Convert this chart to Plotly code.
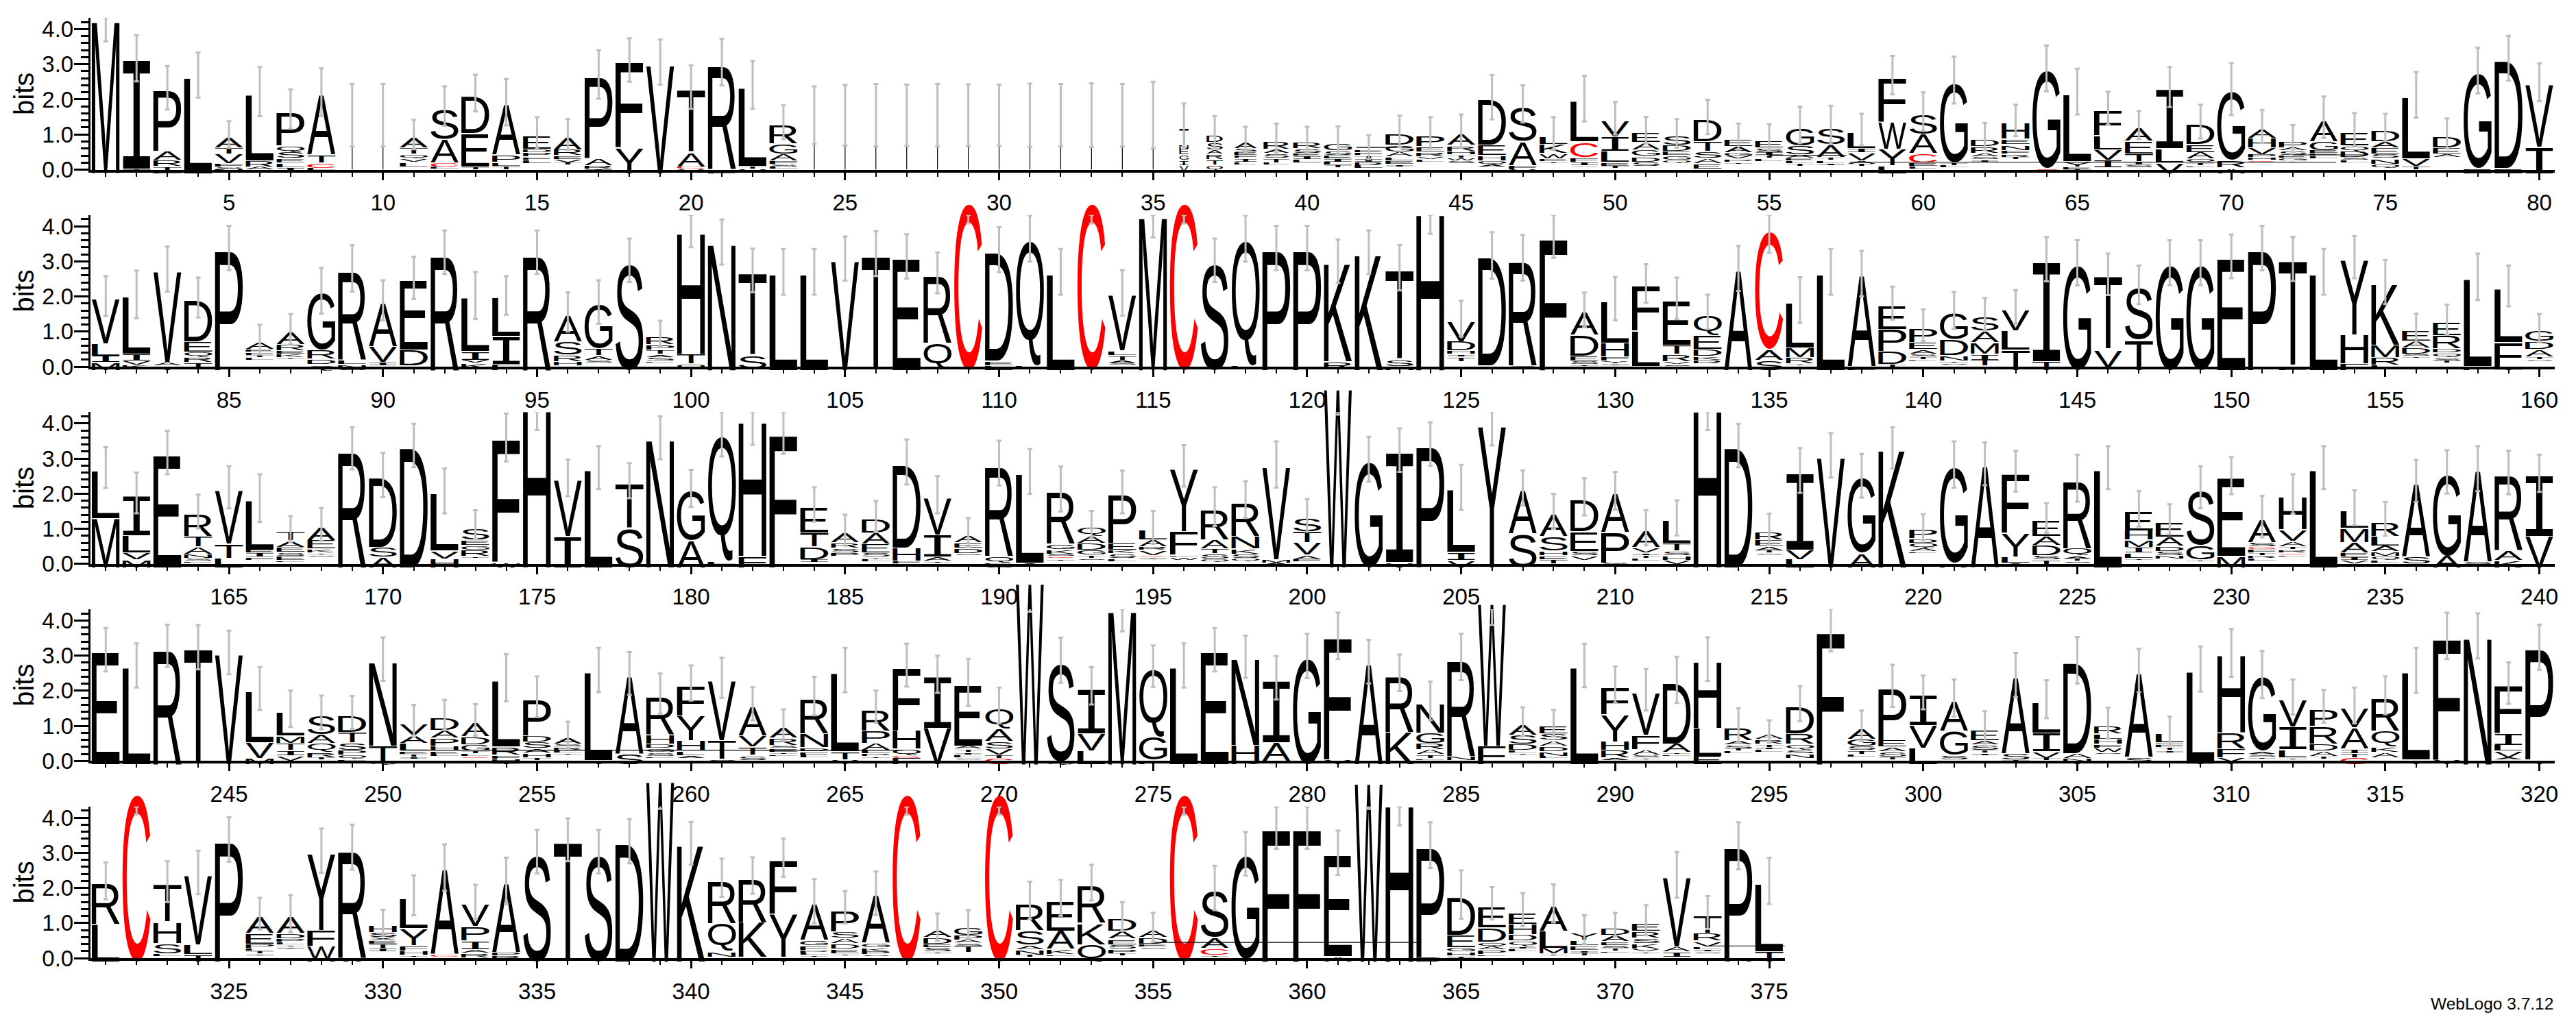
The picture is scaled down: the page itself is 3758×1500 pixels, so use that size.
import plotly.graph_objects as go

ROW_FIRST = [1, 81, 161, 241, 321]
ROW_LAST = [80, 160, 240, 320, 375]

# stack top (bits), one value per position
TOPS_1 = [4.28,3.17,2.33,2.69,1.0,2.22,1.72,2.2,1.55,1.55,
 1.0,1.81,2.18,1.92,1.04,1.0,2.71,3.12,3.06,2.35,
 3.06,2.41,1.35,1.55,1.55,1.55,1.55,1.55,1.55,1.55,
 1.55,1.55,1.55,1.55,1.55,1.26,1.06,.85,.9,.85,
 .82,.64,1.09,1.04,1.1,2.06,1.87,1.03,2.02,1.46,
 1.12,1.03,1.5,.94,.91,1.27,1.27,1.14,2.69,1.65,
 2.55,.94,1.4,2.88,2.22,1.75,1.27,2.35,1.37,2.29,
 1.23,.88,1.49,1.14,1.2,2.13,1.03,2.82,3.17,2.49]
TOPS_2 = [2.01,2.06,2.78,1.97,3.38,.77,1.07,2.16,2.8,1.89,
 2.53,3.26,2.03,2.03,3.26,1.56,1.84,3.03,.94,3.86,
 3.55,2.74,2.7,2.7,3.08,3.22,3.14,2.67,4.72,3.33,
 3.65,2.7,4.72,2.1,4.31,4.72,3.03,3.65,3.38,3.38,
 3.0,3.26,2.82,4.4,1.37,3.17,3.1,3.7,1.62,1.94,
 2.37,1.95,1.56,2.8,3.91,1.9,2.7,2.65,1.81,1.18,
 1.6,1.5,1.7,3.06,2.96,2.63,2.33,2.96,2.96,3.14,
 3.38,3.07,2.7,3.12,2.41,1.1,1.34,2.56,2.3,1.1]
TOPS_3 = [2.74,2.02,3.17,1.49,2.18,1.87,.99,1.12,3.29,2.53,
 3.37,2.08,1.12,3.6,4.43,2.45,2.74,2.37,3.59,2.15,
 3.69,4.1,3.73,1.69,.96,1.36,2.9,1.97,.9,2.87,
 2.63,2.13,1.12,2.05,1.04,2.79,1.63,1.83,2.83,1.38,
 5.05,2.98,3.24,3.41,2.18,3.99,2.16,1.49,1.91,2.08,
 1.03,1.31,4.42,3.37,.99,2.66,3.09,2.51,3.3,1.04,
 2.83,2.85,2.64,1.31,2.44,2.74,1.57,1.27,2.18,2.51,
 1.35,1.99,2.74,1.6,1.28,2.36,2.62,2.71,2.6,2.58]
TOPS_4 = [3.17,2.72,3.28,3.24,3.09,2.06,1.49,1.38,1.38,2.9,
 1.15,1.31,1.17,2.37,1.83,.74,2.59,2.49,1.92,2.22,
 2.37,1.63,1.02,1.85,2.59,1.55,2.73,2.47,2.24,1.58,
 5.13,2.87,2.14,4.32,2.7,2.72,3.17,2.97,2.37,2.99,
 3.56,2.83,2.51,1.71,2.96,4.55,1.12,1.08,2.72,2.17,
 2.03,2.31,2.9,1.02,.84,1.63,3.72,1.0,2.14,1.95,
 1.79,.96,2.45,1.76,2.87,1.08,2.58,.85,2.62,3.08,
 2.46,1.82,1.56,1.58,1.87,2.58,3.56,3.56,2.22,3.24]
TOPS_5 = [2.2,4.73,2.18,2.44,3.38,1.27,1.27,3.06,3.16,1.01,
 1.79,2.58,1.6,2.2,3.03,3.37,3.03,3.33,5.1,3.27,
 2.29,2.35,2.86,1.62,1.45,1.85,4.73,.88,.96,4.73,
 1.65,1.72,2.15,1.19,.88,4.73,2.0,2.97,3.72,3.72,
 3.0,5.05,4.4,3.22,1.81,1.56,1.38,1.56,.81,.95,
 1.08,2.37,1.3,3.2,2.2]

# letters of each stack, top to bottom; a letter without a number reaches the baseline
STACKS_1 = ["M","I3.05 T.1","P1.7 A.22 R.15 T.08 L.06","L","A.26 T.15 V.24 F.07 S.05 N.06","L1.85 R.15 A.06 I.04","P.93 Q.16 S.14 E.1 L.1 I.08","A1.67 T.2 C.12 L.04","","",
 "A.26 T.16 Q.1 V.07 L.1","S.83 A.64 C.09 L.04","D1.03 E.93 T.05","A1.39 P.18 L.08 T.08 I.05","E.35 D.07 P.09 F.05 L.08","A.32 R.14 E.08 V.06 T.04","P2.28 A.17 R.08 I.06","F2.39 Y","V","T1.75 A.38 C.04 V.04",
 "R2.95 L","L2.2 T.06 V.06","R.51 G.26 A.16 F.06 S.05 L.04","","","","","","","",
 "","","","","","T.43 N.1 E.14 G.13 I.12 V.15","D.17 S.18 A.1 R.12 T.13 Q.13","A.14 S.07 E.06 F.05 I.08 L.05","R.2 A.1 S.1 T.1 L.04","R.14 S.11 E.05 I.06 L.07",
 "G.17 S.11 E.06 I.06 L.06 T.04","E.05 F.05 T.06 I.06 R.07 L.06","D.29 G.16 A.11 L.07 E.08 I.05","P.27 E.13 R.1 V.05 L.04","A.3 R.13 H.08 T.06 W.05 S.04","D1.26 E.26 H.11 Q.09 A.04","S.96 A.65 F.09 V.04","L.2 K.22 W.13 E.04 T.03","L1.11 C.42 F.1 I.08 V.03","V.42 I.37 L.29 E.08 T.04",
 "E.24 A.18 G.15 D.13 S.1","S.22 D.14 E.1 G.1 Q.06","D.6 T.24 S.16 A.13 E.13","E.16 A.15 G.07 V.06 P.05 T.03","E.17 S.11 I.06 T.05 L.05","G.49 S.22 A.06 E.05 L.05 T.04","S.45 A.33 T.06 L.05 I.04","L.42 I.1 V.2 A.06 T.04","F1.22 W.74 Y.45 L","S.54 A.51 C.24 E.07 L.04",
 "G2.24 T.05 L.04","D.17 R.16 A.08 S.05 I.04","H.42 E.13 N.13 F.08 R.06 T.04","G2.74 C","L1.88 Y.12 E.05 T.04","F.66 L.38 V.26 I.2","A.35 E.33 T.19 I.06 S.05","I1.64 L.38 V","D.54 E.2 A.16 Q.08 T.04 L.03","G1.92 R.18 A",
 "A.22 H.24 V.17 P.06 H.04 C.03","P.14 A.06 S.1 E.05 G.04 T.03","A.58 G.22 E.06 F.05 L.04","E.35 Q.13 D.14 S.05 L.04","D.29 A.14 E.15 S.1 N.13 Q.1","L1.71 V.19 T.07","D.3 E.14 A.07","G2.67 E","D3.03 E","V1.74 I"]
STACKS_2 = ["V1.24 L.32 I.16 M","L1.59 I.16 V.1 K.04","V2.54 A.08 T","D1.15 E.26 Q.11 R.12 T.13","P","A.17 E.05 F.05 T.04 L.04","A.32 R.15 E.06 K.08 T.03","G1.58 R.22 D.13 Q","R2.5 L.1 N.08 S","A1.2 V.42 I.08 S.05",
 "E1.95 D.42 L.03","R","L1.49 I.21 V.06 K.12","L1.06 I.77 F","R","A.73 S.35 R.16 H.1 T.03","G1.22 T.17 A.1 S.04","S","R.19 P.13 T.1 A.05 S.08 L.03","H3.4 T.24 Q.1",
 "N","T2.31 S.34","L","L","V","T","E","R1.89 Q.7","C","D3.06 E.1 L",
 "Q3.51 L.06","L","C","V1.54 L.1 T.1 A.05 S.04","M","C","S","Q3.51 L.06","P","P",
 "K2.75 R.18","K","T2.52 S.15 H","H","V.54 D.24 H.06 I.05 T.1","D3.04 V.08","R2.97 Q.08","F","A.61 D.56 E.11 S.08 T.03","L1.15 H.36 F.1 Y.04 I.03",
 "F1.24 L.98 Y.03","E1.23 T.22 R.18 V.05 S.03","Q.56 E.37 D.16 K.08 R.08","A","C3.32 A.26 S","L1.25 M.24 R.16 T.03 I.03","L","A2.54 L","E.64 P.59 D.35 T.04 S.03","P.37 E.18 A.1 S.05 T.04 L.03",
 "G.71 D.43 N.13 T.03 S.03","S.38 A.29 M.29 I.15 T.14","V.56 L.53 T","I2.8 T","G","T2.04 V.47","S1.46 T","G","G","E",
 "P","T2.96 L","L","Y2.1 H.8 F","K1.69 M.31 R.19 L.04","E.26 A.16 D.14 S.04 T.03","E.34 R.34 D.1 Q.1 S.06 T.04","L2.44 F","L1.5 F.7 T.03","G.27 D.2 A.17 T.05 S.03"]
STACKS_3 = ["L1.33 M","I1.1 L.47 V.16 M","E","R.6 T.27 A.17 N.09 S.04 L.03","V1.51 T.37 L","L1.36 E.06 I.09 F.05","T.22 A.15 E.12 S.08 E.09 L.03","A.34 E.21 K.08 T.03 S.03","R","D1.94 S.26 A",
 "D","L1.6 V.19 H","S.32 E.13 G.11 R.15 T.03","F3.44 W","H","V1.56 I","L","T1.25 S","N","G1.38 A",
 "Q3.51 L.05","H3.77 F","F","E.69 T.38 D.32 I.06","A.24 R.13 S.1 P.07","D.37 A.29 E.21 S.1 T.03 L.04","D2.33 H.35 F.05 N.04","V1.03 I.6 A.09 T.03","A.18 E.13 D.12 S.03","R2.54 Q.17 E.04 S.04",
 "L2.49 A.05","R1.46 G.12 K.1 S.04 C.03 T.03","Q.21 A.18 D.16 G.12 T.06 S.03","P1.35 E.16 K.08 S.11 L.05","L.24 A.16 R.08 V.12 C.03 I.03","Y1.76 F.64 L.03 W.05","R.83 A.22 T.12 S.12 Q.05","R.93 N.32 K.13 S.1 Q.05","V2.6 M.06 A.04","S.35 T.29 V.31 A.1 F.04",
 "W","G","I3.08 V","P","L1.74 I.2 V","Y","A1.19 S","A.59 S.4 H.1 E.07 T.1","D.88 E.53 S.09 V.1","A1.06 P.85 S.04",
 "A.45 V.12 I.05 T.05 L.04","L.61 T.19 S.1 H.1 V.1","H","D","R.19 E.15 A.1 T.04 S.03","I2.15 V.24 L","V","G2.1 A","K","P.21 D.1 Q.11 A.07 L.03",
 "G2.69 R","A","F1.65 Y.65 L.15 A.04","E.42 A.22 D.26 S.1 T.1","R1.89 Q.18 A.05 T.04 S.03","L","E.51 H.24 M.17 I.13 L.13 T.03","E.4 A.21 D.13 S.1 N.06","S1.54 G.38 T.03","E2.19 M",
 "A.63 S.09 C.05 F.06 T.05 R.05 L.04","H.9 V.3 A.12 T.06 R.06 C.03 L.03","L","L.48 M.37 A.26 E.1 I.06 V.06","R.38 L.24 A.14 M.1 Q.08 L.05","A2.03 S.19 T.03","G2.28 A","A2.54 S.04","R2.12 A.24 K","I1.69 V"]
STACKS_4 = ["E","L","R","T","V","L1.43 V.42 M","L.66 M.18 T.18 I.11 V.13","S.53 A.21 Q.21 R.13 T.04","D.45 T.28 S.17 P.11 Q.08 L.03","N2.36 T.42 Q",
 "V.3 A.2 L.2 E.05 T.05 I.04","D.33 A.19 P.19 H.12 E.05 L.04","A.37 D.19 G.16 T.04 L.05 C.03","L1.86 R.2 F.08 H.07 T.03","P1.0 D.15 S.15 A.1 H.1 T.05","A.14 S.06 R.06 L.04 T.03","L2.47 T","A2.18 S","R1.06 H.23 D.1 G.08 S.08 L.03","F.83 Y.67 H.27 L.1 A.05",
 "V1.67 T.51 S.03","A.8 V.29 T.21 S.11","A.26 R.17 S.06 E.08 T.03 L.03","R.96 N.37 D.08 F.08 L.04","L2.21 T.2 Y","R.58 P.33 A.16 L.06 P.05 T.03","F1.74 H.5 Q.16 C.05 F","I1.42 V","E1.7 A.06 T.06 I.05 L.05 S.03","Q.56 A.31 S.19 V.14 T.08 C",
 "W","S2.78 Q","I1.25 V.47 L","M","Q1.9 G.64 F","L","E","N2.42 H.42 K","I1.73 A.5 K.04","G",
 "F3.42 Y","A","R1.58 K","N.8 G.27 R.14 A.11 T.08 L.03","R2.71 N.09 T.05","W4.02 F","A.27 S.23 D.14 L.05 T.03","E.19 S.16 A.13 D.13 N.1 L.04","L","F.74 Y.74 H.21 R.19 A.04",
 "V1.18 F.38 A.13 S.05 T.03","D1.71 A.21 T.03 L.03","H1.85 L.77 E","R.32 A.1 S.08 T.04 L.04","A.11 R.11 T.06 I.04 L.04","D.74 R.27 Q.13 S.08 N.1","F","A.27 G.17 S.09 T.08 L.04","P1.44 E.16 A.1 S.13 T.04","I.83 V.62 L",
 "A.83 G.66 S.1","E.26 A.1 S.13 T.04 I.04","A2.13 S.15 T.04","L.85 I.51 V.15 T.04 A.03","D2.54 A.11 N.08 T.04","R.19 L.13 H.11 F.08 W.09 S.03","A2.35 S.13","L.21 E.03 F.05 T.05 I.04","L2.55 T.03","H2.17 R.42 F.22 Y",
 "G2.08 A.05 S.04 T.03","V.74 I.61 L.2 T.03","P.45 R.49 D.17 A.12 T.04","V.51 A.58 I.1 T.1 C","R.9 Q.42 K.13 A.12","L2.44 T","F3.41 Y","N","F1.31 I.32 L.14 V.15 A.04","P3.1 T"]
STACKS_5 = ["R1.13 L","C","T1.04 H.58 S.27 L.05 A.03","V1.95 L.25 T","P","A.44 E.28 P.1 L.05 T.05 I.03","A.45 D.12 P.08 L.04 T.03 I.03","Y2.15 F.42 W.35 H","R3.05 W","H.16 S.12 X.06 E.06 T.1 I.06",
 "L.83 Y.45 F.13 H.1 T.03","A2.37 C.05 L.07","V.59 P.38 I.21 A.08 R.1","A1.92 P.07 R.07","S","T","S","D","W","K",
 "R1.19 Q.77 N.13","R1.21 K.97 L.03","F1.49 Y1.2 T","A.99 G.13 F.1 P.05 L.04 T.03","P.58 S.15 A.13 D.13 E.1 T.03","A1.31 G.1 K.08 P.06 S.03","C","A.18 D.15 E.07 S.09 T.03","G.19 P.11 A.06 S.06 T.14","C",
 "R.74 S.4 A.1 N.12 T.04 L.03","E.83 A.49 K.13 L.03","R1.04 K.58 Q","D.31 A.19 E.13 S.1 P.1 T.04","A.18 D.15 E.05 S.03","C","S1.3 A.28 C.16 T.03","G2.9 T","F","F",
 "E2.85 A","W","H","P3.08 D","D1.04 E.32 G.1 H.08 T.08","E.58 D.38 Q.1 A.06 P.1 L.03","E.3 H.26 D.15 Q.13 I.05 L.05","A.67 L.46 M.14 T.03","Y.18 L.13 E.1 I.05 T.05","D.18 A.15 E.08 S.06 T.05 L.03",
 "E.2 R.16 S.13 K.12 V.05 T.03","V1.94 A.11 I.12","T.48 R.19 V.13 L.05 I.04 S.03","P3.09 A","L1.9 T"]

# upper end of the error bar (bits)
ERR_TOP_1 = [4.33,3.83,2.95,3.33,1.38,2.92,2.28,2.88,2.44,2.44,
 1.42,2.37,2.7,2.58,1.49,1.44,3.4,3.74,3.7,2.97,
 3.72,3.09,1.83,2.37,2.41,2.44,2.42,2.44,2.43,2.42,
 2.45,2.44,2.46,2.44,2.5,1.88,1.52,1.22,1.31,1.22,
 1.23,.98,1.54,1.49,1.57,2.69,2.4,1.49,2.67,1.92,
 1.5,1.44,1.99,1.31,1.29,1.79,1.82,1.59,3.24,2.2,
 3.22,1.33,1.85,3.53,2.87,2.22,1.67,2.92,1.85,3.03,
 1.7,1.27,2.08,1.61,1.59,2.78,1.46,3.47,3.81,3.03]
ERR_TOP_2 = [2.58,2.74,3.42,2.54,4.01,1.19,1.5,2.81,3.46,2.46,
 3.13,3.88,2.7,2.58,3.88,2.12,2.46,3.65,1.31,4.32,
 4.19,3.36,3.35,3.35,3.71,3.86,3.77,3.25,4.32,3.97,
 4.31,3.35,4.32,2.75,4.32,4.32,3.65,4.31,4.01,4.01,
 3.62,3.88,3.47,4.32,1.88,3.83,3.75,4.32,2.11,2.56,
 2.92,2.54,2.05,3.44,4.32,2.55,3.35,3.3,2.28,1.63,
 2.13,1.96,2.18,3.69,3.6,3.22,2.88,3.6,3.6,3.76,
 4.01,3.7,3.35,3.72,3.04,1.51,1.77,3.22,2.88,1.5]
ERR_TOP_3 = [3.32,2.6,3.79,1.97,2.78,2.55,1.36,1.59,3.89,3.16,
 3.99,2.72,1.53,4.28,4.32,2.97,3.35,2.87,4.2,2.68,
 4.32,4.32,4.32,2.18,1.4,1.79,3.54,2.5,1.31,3.51,
 3.27,2.77,1.51,2.66,1.51,3.38,2.18,2.35,3.49,1.84,
 4.32,3.62,3.86,4.03,2.82,4.33,2.66,1.99,2.44,2.62,
 1.53,1.81,4.33,3.99,1.43,3.3,3.72,3.13,3.89,1.41,
 3.49,3.46,3.22,1.73,3.11,3.35,2.08,1.7,2.78,3.04,
 1.94,2.55,3.35,2.1,1.76,2.96,3.24,3.35,3.22,3.11]
ERR_TOP_4 = [3.79,3.35,3.88,3.87,3.71,2.67,2.01,1.86,1.85,3.52,
 1.6,1.74,1.62,3.04,2.41,1.12,3.22,3.1,2.49,2.72,
 2.94,2.1,1.47,2.4,3.22,2.01,3.34,3.0,2.91,2.09,
 4.35,3.51,2.67,4.33,3.29,3.35,3.79,3.57,2.99,3.62,
 4.22,3.45,3.03,2.26,3.62,4.33,1.53,1.45,3.34,2.69,
 2.62,2.97,3.52,1.5,1.16,2.13,4.33,1.44,2.74,2.43,
 2.32,1.42,3.08,2.3,3.53,1.52,3.2,1.26,3.26,3.76,
 3.13,2.32,2.03,2.09,2.41,3.22,4.22,4.2,2.81,3.88]
ERR_TOP_5 = [2.73,4.31,2.76,3.06,4.01,1.72,1.8,3.69,3.8,1.38,
 2.36,3.24,2.09,2.86,3.65,3.98,3.65,3.96,4.35,3.88,
 2.83,2.87,3.4,2.25,1.91,2.47,4.31,1.27,1.37,4.31,
 2.18,2.23,2.66,1.6,1.29,4.31,2.63,3.59,4.31,4.31,
 3.63,4.31,4.31,3.87,2.5,2.02,1.85,2.1,1.22,1.29,
 1.51,3.02,1.77,3.87,2.86]

# lower ends of the error bars that are not mirrored around the stack top
ERR_LOW_SET = {1:3.65,109:4.08,113:4.08,115:3.68,116:4.08,124:3.78,128:3.1,135:3.24,175:3.81,
 182:3.39,183:3.13,201:4.25,206:3.37,213:3.81,271:4.25,274:3.69,286:3.87,297:3.12,322:4.09,
 339:4.25,347:4.09,350:4.09,356:4.09,359:3.11,360:3.11,362:4.25,363:3.78}

# positions whose glyphs are narrower than a full column
WIDTH_SET = {36:.33,37:.58,38:.8,39:.92}

# long hairlines printed across several positions: row, first, last, bits
HAIRLINES = [(0,55,57.5,.41),(0,41.6,43.4,.63),(0,57.6,73.4,.21),(0,72,74.3,.42),
 (3,250.6,266.9,.31),(4,355,363.7,.45),(4,373,376,.35)]

BASELINES_PX = [249,540.7,832.5,1124.2,1416]
BITS_PX = 52.0
YMAX = 4.32
LEFT_PX = 132.0
COL_PX = 45.0
W, H = 3758, 1500
FONT = "Liberation Sans"
SERIF_I_FONT = "Liberation Mono"
GREY = "#bebebe"
RED = "#ff0000"

ALL_TOPS = [TOPS_1,TOPS_2,TOPS_3,TOPS_4,TOPS_5]
ALL_STACKS = [STACKS_1,STACKS_2,STACKS_3,STACKS_4,STACKS_5]
ALL_ERR = [ERR_TOP_1,ERR_TOP_2,ERR_TOP_3,ERR_TOP_4,ERR_TOP_5]
GAP = 0.03

fig = go.Figure()
layout = {}
for r in range(5):
    first, last = ROW_FIRST[r], ROW_LAST[r]
    tops, stacks, errs = ALL_TOPS[r], ALL_STACKS[r], ALL_ERR[r]
    n = last - first + 1
    assert len(tops) == n and len(stacks) == n and len(errs) == n, (r, len(tops), len(stacks), len(errs))
    sfx = "" if r == 0 else str(r + 1)
    xa, ya = "x" + sfx, "y" + sfx
    base = BASELINES_PX[r]
    layout["xaxis" + sfx] = dict(
        domain=[LEFT_PX / W, (LEFT_PX + n * COL_PX) / W], range=[first - .5, last + .5],
        anchor=ya, showgrid=False, zeroline=False, showline=True, linecolor="black", linewidth=4,
        ticks="outside", ticklen=11, tickwidth=2.5, tickcolor="black", tick0=0, dtick=5,
        ticklabelstandoff=5, tickfont=dict(family=FONT, size=33, color="black"),
        minor=dict(ticks="outside", ticklen=6, tickwidth=2, tickcolor="black", dtick=1, tick0=0, showgrid=False))
    layout["yaxis" + sfx] = dict(
        domain=[1 - base / H, 1 - (base - YMAX * BITS_PX) / H], range=[0, YMAX], anchor=xa,
        showgrid=False, zeroline=False, showline=True, linecolor="black", linewidth=3,
        ticks="outside", ticklen=21, tickwidth=3, tickcolor="black", tick0=0, dtick=1, tickformat=".1f",
        ticklabelstandoff=-6, tickfont=dict(family=FONT, size=33, color="black"),
        title=dict(text="bits", font=dict(family=FONT, size=40, color="black"), standoff=0),
        minor=dict(ticks="outside", ticklen=11, tickwidth=3, tickcolor="black", dtick=.2, tick0=0, showgrid=False))

    lx, ly, lt, lc, lf, lcd = [], [], [], [], [], []
    tx, ty = [], []
    ex, ey, eup, edn = [], [], [], []
    for i in range(n):
        col = first + i
        top = tops[i]
        low = ERR_LOW_SET.get(col, max(0.0, 2 * top - errs[i]))
        ex.append(col); ey.append(min(top, errs[i]))
        eup.append(max(0.0, errs[i] - min(top, errs[i])))
        edn.append(max(0.0, min(top, errs[i]) - low))
        if not stacks[i]:
            tx += [col, col, None]; ty += [0, top, None]
            continue
        y = top
        for tok in stacks[i].split():
            h = float(tok[1:]) if len(tok) > 1 else y
            y0 = max(0.0, y - h)
            lx.append(col); ly.append((y + y0) / 2); lt.append(tok[0])
            lc.append(RED if tok[0] == "C" else "black")
            lf.append(SERIF_I_FONT if tok[0] == "I" else FONT)
            lcd.append([y, y0, WIDTH_SET.get(col, 1.0)])
            y = y0 - GAP
            if y <= 0:
                break
    for row, a, b, bits in HAIRLINES:
        if row == r:
            tx += [a, b, None]; ty += [bits, bits, None]

    fig.add_trace(go.Scatter(x=lx, y=ly, text=lt, customdata=lcd, mode="text", xaxis=xa, yaxis=ya,
                             textposition="middle center", cliponaxis=False, hoverinfo="skip",
                             textfont=dict(family=lf, size=20, color=lc), showlegend=False))
    fig.add_trace(go.Scatter(x=tx, y=ty, mode="lines", xaxis=xa, yaxis=ya, cliponaxis=False, hoverinfo="skip",
                             line=dict(color="black", width=1.2), showlegend=False))
    fig.add_trace(go.Scatter(x=ex, y=ey, mode="markers", xaxis=xa, yaxis=ya, cliponaxis=False, hoverinfo="skip",
                             marker=dict(size=1, opacity=0), showlegend=False,
                             error_y=dict(type="data", symmetric=False, array=eup, arrayminus=edn,
                                          color=GREY, thickness=3, width=3.5)))

layout["annotations"] = [dict(text="WebLogo 3.7.12", xref="paper", yref="paper", x=3732 / W, y=1 - 1483 / H,
                              xanchor="right", yanchor="middle", showarrow=False,
                              font=dict(family=FONT, size=24.5, color="black"))]
fig.update_layout(width=W, height=H, margin=dict(l=0, r=0, t=0, b=0), paper_bgcolor="white",
                  plot_bgcolor="white", showlegend=False, **layout)

# Fit each real text letter to its stack slot: SVG text cannot be stretched from Plotly itself.
FIT_JS = """
document.body.style.margin='0';
var gd=document.getElementById('{plot_id}'), fl=gd._fullLayout;
var ctx=document.createElement('canvas').getContext('2d');
var SLOT=41;
gd.querySelectorAll('g.trace.scatter').forEach(function(g){
  var cd=g.__data__; if(!cd||!cd[0]) return;
  var tr=cd[0].trace; if(tr.mode!=='text') return;
  var xa=fl['xaxis'+tr.xaxis.slice(1)], ya=fl['yaxis'+tr.yaxis.slice(1)];
  g.querySelectorAll('g.textpoint text').forEach(function(t,j){
    var c=tr.customdata[j], col=tr.x[j];
    ctx.font='100px "'+tr.textfont.family[j]+'"';
    var m=ctx.measureText(t.textContent);
    var L=-m.actualBoundingBoxLeft, R=m.actualBoundingBoxRight, A=m.actualBoundingBoxAscent, D=m.actualBoundingBoxDescent;
    var w=SLOT*c[2], X0=xa.l2p(col)-w/2, X1=X0+w, Yt=ya.l2p(c[0]), Yb=ya.l2p(c[1]);
    var sx=(X1-X0)/(R-L), sy=(Yb-Yt)/(A+D);
    t.removeAttribute('dy');
    t.setAttribute('x',0); t.setAttribute('y',0);
    t.setAttribute('text-anchor','start');
    t.style.fontSize='100px';
    t.setAttribute('transform','matrix('+sx+',0,0,'+sy+','+(X0-sx*L)+','+(Yt+sy*A)+')');
  });
});
"""
fig.write_html("out.html", post_script=FIT_JS, config={"responsive": False, "displayModeBar": False})
